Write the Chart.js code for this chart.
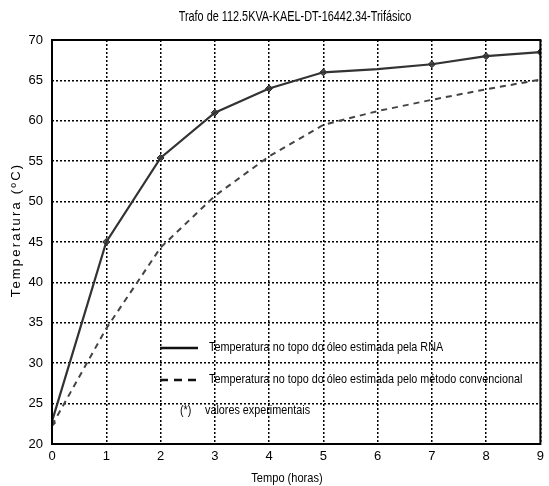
<!DOCTYPE html>
<html>
<head>
<meta charset="utf-8">
<script src="https://cdn.jsdelivr.net/npm/chart.js@4/dist/chart.umd.min.js"></script>
<style>
  html, body { margin: 0; padding: 0; background: #fff; }
  #wrap { width: 549px; height: 486px; }
</style>
</head>
<body>
<div id="wrap"><canvas id="trafoChart"></canvas></div>
<script>
const FONT = "'Liberation Sans', Arial, sans-serif";

// tempo em horas
const horas = [0, 1, 2, 3, 4, 5, 6, 7, 8, 9];
// temperatura no topo do óleo estimada pela RNA
const tempRNA = [22.8, 45, 55.4, 61, 64, 66, 66.4, 67, 68, 68.5];
// temperatura estimada pelo método convencional
const tempConv = [22.3, 34.3, 44.3, 50.7, 55.6, 59.5, 61.2, 62.6, 63.9, 65.1];
// valores experimentais (*)
const expHoras = [0, 1, 2, 3, 4, 5, 7, 8, 9];
const expTemp = [22.6, 45, 55.4, 61, 64, 66, 67, 68, 68.5];

const yTicks = [20, 25, 30, 35, 40, 45, 50, 55, 60, 65, 70];

const toPoints = (xs, ys) => xs.map((x, i) => ({ x: x, y: ys[i] }));

// narrow text: the original uses a condensed Helvetica
function narrowText(ctx, text, x, y, size, squeeze, align) {
  ctx.save();
  ctx.font = size + 'px ' + FONT;
  ctx.translate(x, y);
  ctx.scale(squeeze, 1);
  ctx.textAlign = align || 'left';
  ctx.fillText(text, 0, 0);
  ctx.restore();
}

// box, titles and the in-plot legend text
const decor = {
  id: 'decor',
  afterDatasetsDraw(chart) {
    const { ctx, chartArea: a } = chart;
    ctx.save();
    ctx.strokeStyle = '#000';
    ctx.lineWidth = 2;
    ctx.strokeRect(a.left, a.top, a.right - a.left, a.bottom - a.top);

    ctx.fillStyle = '#000';
    ctx.textBaseline = 'middle';
    narrowText(ctx, 'Trafo de 112.5KVA-KAEL-DT-16442.34-Trifásico', 295, 17, 14.5, 0.75, 'center');

    ctx.textBaseline = 'top';
    narrowText(ctx, 'Tempo (horas)', 287, 472, 13.5, 0.82, 'center');

    ctx.save();
    ctx.translate(16, 230);
    ctx.rotate(-Math.PI / 2);
    ctx.textBaseline = 'middle';
    ctx.textAlign = 'center';
    ctx.font = '13px ' + FONT;
    ctx.letterSpacing = '2.2px';
    ctx.fillText('Temperatura (ºC)', 0, 0);
    ctx.restore();

    // legend drawn inside the plot
    const lx = a.left + 108;
    ctx.lineWidth = 2.5;
    ctx.strokeStyle = '#111';
    ctx.beginPath();
    ctx.moveTo(lx, a.top + 308);
    ctx.lineTo(lx + 38, a.top + 308);
    ctx.stroke();
    ctx.setLineDash([8, 6]);
    ctx.beginPath();
    ctx.moveTo(lx, a.top + 340);
    ctx.lineTo(lx + 38, a.top + 340);
    ctx.stroke();
    ctx.setLineDash([]);

    ctx.textBaseline = 'middle';
    narrowText(ctx, 'Temperatura no topo do óleo estimada pela RNA', lx + 49, a.top + 307, 13.5, 0.8);
    narrowText(ctx, 'Temperatura no topo do óleo estimada pelo método convencional', lx + 49, a.top + 339, 13.5, 0.8);
    narrowText(ctx, '(*)', lx + 20, a.top + 370, 13.5, 0.8);
    narrowText(ctx, 'valores experimentais', lx + 45, a.top + 370, 13.5, 0.8);
    ctx.restore();
  }
};

new Chart(document.getElementById('trafoChart'), {
  type: 'scatter',
  data: {
    datasets: [
      {
        label: 'RNA',
        data: toPoints(horas, tempRNA),
        showLine: true,
        borderColor: '#333',
        borderWidth: 2.2,
        pointRadius: 0,
        tension: 0
      },
      {
        label: 'Convencional',
        data: toPoints(horas, tempConv),
        showLine: true,
        borderColor: '#444',
        borderWidth: 2,
        borderDash: [6, 5],
        pointRadius: 0,
        tension: 0
      },
      {
        label: 'Experimentais',
        data: toPoints(expHoras, expTemp),
        showLine: false,
        pointStyle: 'rectRot',
        pointRadius: 3.5,
        backgroundColor: '#555',
        borderColor: '#222',
        borderWidth: 1
      }
    ]
  },
  plugins: [decor],
  options: {
    responsive: true,
    maintainAspectRatio: false,
    animation: false,
    layout: { padding: { top: 40, right: 6, left: 0, bottom: 0 } },
    plugins: {
      legend: { display: false },
      tooltip: { enabled: false }
    },
    scales: {
      x: {
        type: 'linear',
        min: 0,
        max: 9,
        afterFit: (s) => { s.height = 42; },
        grid: { color: '#000', lineWidth: 1.5, drawTicks: false },
        border: { display: false, dash: [2, 2] },
        ticks: {
          stepSize: 1,
          padding: 5,
          color: '#000',
          font: { family: FONT, size: 13 }
        }
      },
      y: {
        min: 20,
        max: 70,
        afterFit: (s) => { s.width = 52; },
        afterBuildTicks: (s) => { s.ticks = yTicks.map(v => ({ value: v })); },
        grid: { color: '#000', lineWidth: 1.5, drawTicks: false },
        border: { display: false, dash: [2, 2] },
        ticks: {
          padding: 9,
          color: '#000',
          font: { family: FONT, size: 13 }
        }
      }
    }
  }
});
</script>
</body>
</html>
